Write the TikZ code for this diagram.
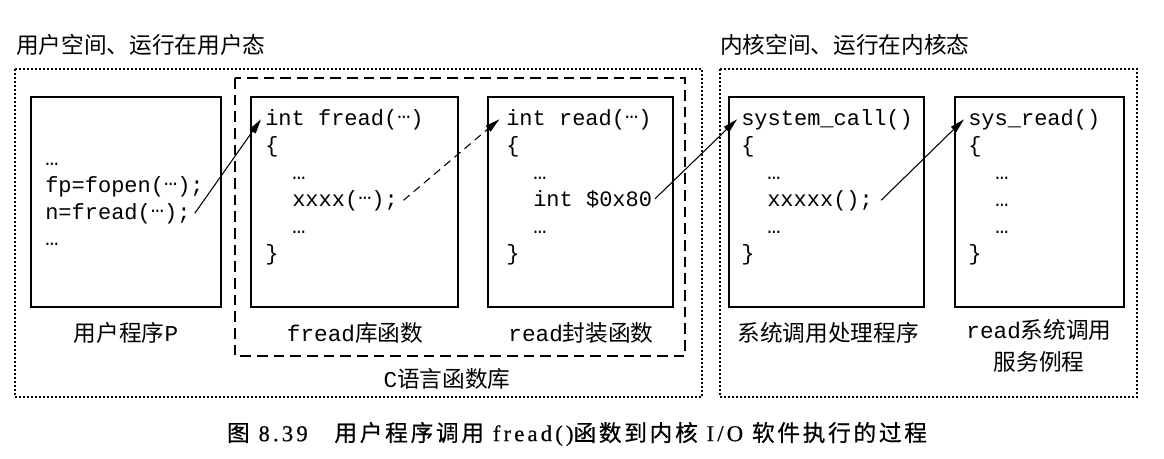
\documentclass[tikz,border=0pt]{standalone}
\usepackage{fontspec}
\setmainfont{Liberation Serif}
\setmonofont{Liberation Mono}
\newfontfamily\cjk{Noto Sans CJK SC}
\newfontfamily\capcjk[LetterSpace=12,FakeBold=0.6]{Noto Sans CJK SC}
\newfontfamily\caplat[LetterSpace=14,FakeBold=0.6]{Liberation Serif}
\usetikzlibrary{arrows.meta}
\newcommand\myell{\raisebox{0.3em}{…}}
\begin{document}
\begin{tikzpicture}[x=0.75pt,y=-0.75pt,
  code/.style={anchor=base west, inner sep=0, font=\fontsize{16.5}{20}\selectfont\ttfamily},
  lab/.style={inner sep=0, font=\fontsize{17}{20}\selectfont\cjk},
  box/.style={draw, line width=0.9pt},
  outer/.style={draw, line width=1.1pt, dash pattern=on 1.5pt off 1.5pt},
  lib/.style={draw, line width=0.9pt, dash pattern=on 8pt off 4.5pt},
  call/.style={-{Triangle[length=11pt,width=5.5pt]}, line width=0.8pt},
]
\useasboundingbox (0,0) rectangle (1164,458);

% titles
\node[lab, anchor=west] (tl) at (16,45) {用户空间、运行在用户态};
\node[lab, anchor=west] (tr) at (720,45) {内核空间、运行在内核态};

% outer regions
\draw[outer] (15,69) rectangle (702,397);
\draw[outer] (720,69) rectangle (1137,397);
\draw[lib] (235,78) rectangle (685,356);

% boxes
\draw[box] (31,97) rectangle (221,307);
\draw[box] (251,97) rectangle (458,307);
\draw[box] (488,97) rectangle (673,307);
\draw[box] (729,97) rectangle (924,307);
\draw[box] (955,97) rectangle (1124,307);

% user program P
\node[code] (p1) at (45,165) {…};
\node[code] (p2) at (45,192) {fp=fopen(\myell);};
\node[code] (p3) at (45,219) {n=fread(\myell);};
\node[code] (p4) at (45,245) {…};

% fread
\node[code] (f1) at (265,125) {int fread(\myell)};
\node[code] (f2) at (265,152) {\{};
\node[code] (f3) at (292,179) {…};
\node[code] (f4) at (292,206) {xxxx(\myell);};
\node[code] (f5) at (292,233) {…};
\node[code] (f6) at (265,260) {\}};

% read
\node[code] (r1) at (506,125) {int read(\myell)};
\node[code] (r2) at (506,152) {\{};
\node[code] (r3) at (533,179) {…};
\node[code] (r4) at (533,206) {int \$0x80};
\node[code] (r5) at (533,233) {…};
\node[code] (r6) at (506,260) {\}};

% system_call
\node[code] (s1) at (741,125) {system\_call()};
\node[code] (s2) at (741,152) {\{};
\node[code] (s3) at (767,179) {…};
\node[code] (s4) at (767,206) {xxxxx();};
\node[code] (s5) at (767,233) {…};
\node[code] (s6) at (741,260) {\}};

% sys_read
\node[code] (k1) at (968,125) {sys\_read()};
\node[code] (k2) at (968,152) {\{};
\node[code] (k3) at (995,179) {…};
\node[code] (k4) at (995,206) {…};
\node[code] (k5) at (995,233) {…};
\node[code] (k6) at (968,260) {\}};

% labels
\node[lab] (lp) at (126,333) {用户程序{\ttfamily P}};
\node[lab] (lf) at (355,333) {{\ttfamily fread}库函数};
\node[lab] (lr) at (581,333) {{\ttfamily read}封装函数};
\node[lab] (lc) at (447,379) {{\ttfamily C}语言函数库};
\node[lab] (ls) at (828,333) {系统调用处理程序};
\node[lab, align=center] (lk) at (1039,346) {{\ttfamily read}系统调用\\[4pt]服务例程};

% arrows
\draw[call] ([xshift=3pt]p3.east) -- ([xshift=-3pt]f1.west);
\draw[call, dash pattern=on 6pt off 4pt] ([xshift=4pt]f4.east) -- ([xshift=-5pt]r1.west);
\draw[call] ([xshift=2pt]r4.east) -- ([xshift=-3pt]s1.west);
\draw[call] ([xshift=6pt]s4.east) -- ([xshift=-3pt]k1.west);

% caption
\node[inner sep=0] (cap) at (577,434) {\caplat\fontsize{17}{20}\selectfont{\capcjk 图} 8.39\hspace{20pt}{\capcjk 用户程序调用} fread(){\capcjk 函数到内核} I/O {\capcjk 软件执行的过程}};
\end{tikzpicture}
\end{document}
